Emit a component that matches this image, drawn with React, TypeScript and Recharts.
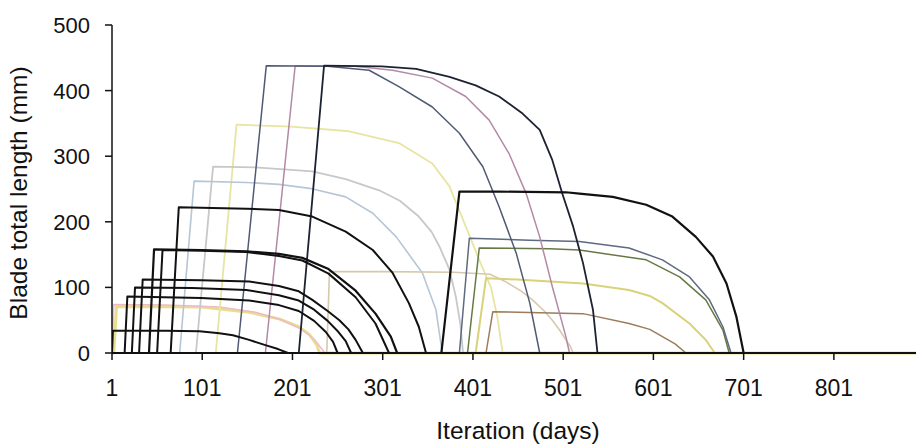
import React from "react";
import { LineChart, Line, XAxis, YAxis } from "recharts";

type Pt = [number, number];

// axis ticks
const xTicks = [1, 101, 201, 301, 401, 501, 601, 701, 801];
const yTicks = [0, 100, 200, 300, 400, 500];
const firstDay = 1;
const lastDay = 892;

// blade length curves, [day, length mm]
const blade36: Pt[] = [[1, 0], [2, 34], [60, 34], [98, 33], [120, 30], [135, 27], [153, 20], [171, 12], [185, 6], [196, 0]];
const pinkSmall: Pt[] = [[1, 0], [3, 74], [60, 73], [120, 70], [160, 62], [190, 50], [210, 37], [225, 21], [237, 0]];
const yellowSmall: Pt[] = [[3, 0], [6, 71], [100, 70], [153, 62], [186, 52], [208, 40], [220, 28], [228, 12], [231, 0]];
const blade88: Pt[] = [[15, 0], [18, 86], [100, 84], [153, 80], [186, 73], [208, 64], [225, 49], [238, 32], [246, 17], [251, 0]];
const blade101: Pt[] = [[23, 0], [26.5, 100], [90, 99], [150, 96], [186, 88], [208, 80], [225, 66], [240, 49], [252, 32], [260, 18], [266, 0]];
const blade113: Pt[] = [[31, 0], [35, 112], [100, 111], [153, 109], [186, 102], [208, 94], [223, 81], [240, 64], [253, 50], [263, 36], [271, 20], [279, 0]];
const blade160a: Pt[] = [[42, 0], [47.6, 158], [100, 157], [150, 155], [186, 151], [212, 145], [241, 128], [271, 95], [293, 60], [310, 25], [317, 0]];
const blade160b: Pt[] = [[51, 0], [57, 157], [100, 156], [150, 154], [186, 148], [212, 141], [241, 121], [271, 85], [293, 45], [308, 0]];
const blade225: Pt[] = [[66, 0], [75, 222], [150, 220], [186, 218], [223, 208], [260, 185], [290, 157], [312, 122], [330, 76], [341, 40], [349, 0]];
const blue265: Pt[] = [[76, 0], [92, 262], [150, 260], [186, 257], [220, 251], [260, 238], [290, 213], [316, 177], [345, 122], [360, 66], [367, 0]];
const gray285: Pt[] = [[94, 0], [113, 284], [160, 283], [223, 277], [260, 265], [297, 248], [320, 232], [341, 208], [355, 185], [364, 162], [375, 127], [382, 86], [387, 45], [390, 0]];
const yellow350: Pt[] = [[116, 0], [139, 348], [200, 345], [264, 338], [319, 320], [356, 289], [375, 254], [393, 193], [410, 135], [421, 100], [428, 55], [434, 0]];
const bladeA: Pt[] = [[140, 0], [172, 438], [240, 437], [286, 431], [319, 406], [356, 375], [386, 335], [412, 284], [430, 223], [449, 152], [464, 76], [475, 0]];
const bladeB: Pt[] = [[171, 0], [204, 438], [270, 437], [312, 431], [356, 419], [393, 391], [419, 355], [441, 304], [460, 243], [475, 177], [489, 101], [504, 25], [508, 0]];
const bladeC: Pt[] = [[208, 0], [236, 438], [300, 437], [338, 433], [375, 421], [404, 408], [430, 391], [456, 365], [475, 340], [489, 294], [500, 243], [512, 193], [523, 137], [534, 66], [539, 0]];
const tan125: Pt[] = [[239, 0], [242, 124], [300, 124], [380, 123], [420, 120], [438, 108], [455, 94], [467, 81], [480, 64], [489, 50], [497, 35], [504, 20], [509, 10], [512, 0]];
const blade250: Pt[] = [[366, 0], [386, 246], [430, 246], [504, 245], [519, 243], [556, 238], [593, 226], [622, 208], [648, 177], [667, 147], [682, 106], [693, 55], [701, 0]];
const blue175: Pt[] = [[386, 0], [397, 175], [464, 172], [519, 170], [574, 160], [611, 142], [641, 116], [663, 81], [678, 40], [687, 0]];
const olive165: Pt[] = [[395, 0], [408, 160], [486, 159], [519, 157], [593, 142], [630, 116], [659, 81], [678, 35], [685, 0]];
const yellow115: Pt[] = [[404, 0], [415.5, 114], [450, 112], [523, 106], [574, 96], [597, 87], [611, 76], [641, 45], [659, 20], [669, 0]];
const brown60: Pt[] = [[415.5, 0], [423, 63], [523, 60], [574, 45], [597, 36], [611, 25], [625, 14], [637, 0]];

// draw order: pale colours first, black on top
const series = [
  { key: "yellowSmall", pts: yellowSmall, color: "#e6e08c", width: 3 },
  { key: "pinkSmall", pts: pinkSmall, color: "#f0b9c9", width: 1.5 },
  { key: "yellow350", pts: yellow350, color: "#e8e4a2", width: 1.8 },
  { key: "gray285", pts: gray285, color: "#c6c8ca", width: 1.8 },
  { key: "blue265", pts: blue265, color: "#b5c6d6", width: 1.6 },
  { key: "tan125", pts: tan125, color: "#d6c8ac", width: 1.6 },
  { key: "yellow115", pts: yellow115, color: "#d9d27a", width: 2 },
  { key: "brown60", pts: brown60, color: "#9c7c5c", width: 1.5 },
  { key: "olive165", pts: olive165, color: "#667844", width: 1.5 },
  { key: "blue175", pts: blue175, color: "#5d6a80", width: 1.5 },
  { key: "bladeB", pts: bladeB, color: "#b38aa6", width: 1.5 },
  { key: "bladeA", pts: bladeA, color: "#4f5a74", width: 1.5 },
  { key: "bladeC", pts: bladeC, color: "#1d2233", width: 1.8 },
  { key: "blade36", pts: blade36, color: "#111111", width: 2 },
  { key: "blade88", pts: blade88, color: "#111111", width: 2 },
  { key: "blade101", pts: blade101, color: "#111111", width: 2 },
  { key: "blade113", pts: blade113, color: "#111111", width: 2 },
  { key: "blade160b", pts: blade160b, color: "#111111", width: 2 },
  { key: "blade160a", pts: blade160a, color: "#111111", width: 2.2 },
  { key: "blade225", pts: blade225, color: "#111111", width: 2 },
  { key: "blade250", pts: blade250, color: "#111111", width: 2.2 },
];

const toRows = (pts: Pt[]) =>
  ([[firstDay, 0], ...pts, [lastDay, 0]] as Pt[]).map(([x, y]) => ({ x, y }));

const FONT = '"Liberation Sans", Arial, Helvetica, sans-serif';

const XTick = ({ x, y, payload }: any) => (
  <text x={x} y={y} dy={34} textAnchor="middle" fontSize={23} fontFamily={FONT} fill="#111">
    {payload.value}
  </text>
);

const YTick = ({ x, y, payload }: any) => (
  <text x={x - 13} y={y} dy="0.36em" textAnchor="end" fontSize={22} fontFamily={FONT} fill="#111">
    {payload.value}
  </text>
);

export default function App() {
  return (
    <div style={{ position: "absolute", left: 0, top: 0, width: 916, height: 447, background: "#fff" }}>
      <LineChart width={916} height={447} margin={{ top: 25, right: 0, bottom: 0, left: 0 }}>
        <XAxis
          dataKey="x"
          type="number"
          domain={[firstDay, lastDay]}
          ticks={xTicks}
          interval={0}
          tickSize={7}
          tick={<XTick />}
          axisLine={{ stroke: "#111", strokeWidth: 1.5 }}
          tickLine={{ stroke: "#111", strokeWidth: 1.5 }}
          height={94}
          allowDataOverflow
        />
        <YAxis
          type="number"
          domain={[0, 500]}
          ticks={yTicks}
          interval={0}
          tickSize={7}
          tick={<YTick />}
          axisLine={{ stroke: "#111", strokeWidth: 1.5 }}
          tickLine={{ stroke: "#111", strokeWidth: 1.5 }}
          width={112}
        />
        {series.map((s) => (
          <Line
            key={s.key}
            data={toRows(s.pts)}
            dataKey="y"
            type="linear"
            stroke={s.color}
            strokeWidth={s.width}
            strokeLinejoin="round"
            dot={false}
            activeDot={false}
            isAnimationActive={false}
          />
        ))}
      </LineChart>
      <svg width={916} height={447} style={{ position: "absolute", left: 0, top: 0, pointerEvents: "none" }}>
        <text
          transform="translate(27,193) rotate(-90)"
          textAnchor="middle"
          fontSize={24.5}
          fontFamily={FONT}
          fill="#111"
        >
          Blade total length (mm)
        </text>
        <text x={518} y={439} textAnchor="middle" fontSize={24.5} fontFamily={FONT} fill="#111">
          Iteration (days)
        </text>
      </svg>
    </div>
  );
}
